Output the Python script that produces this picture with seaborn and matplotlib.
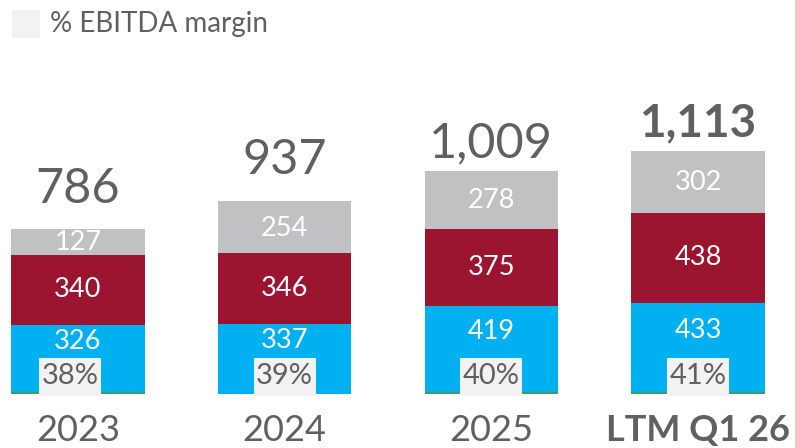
import matplotlib
matplotlib.use("Agg")
import matplotlib.pyplot as plt
import seaborn as sns
import numpy as np
import pandas as pd
from matplotlib.patches import FancyBboxPatch, Rectangle

categories = ["2023", "2024", "2025", "LTM Q1 26"]
green = [9, 0, 9, 9]
blue = [326, 337, 419, 433]
red = [340, 346, 375, 438]
grey = [127, 254, 278, 302]
totals = ["786", "937", "1,009", "1,113"]
margins = ["38%", "39%", "40%", "41%"]
legend_label = "% EBITDA margin"

sns.set_theme(style="white")
plt.rcParams['font.family'] = ['Lato', 'DejaVu Sans']

TXT = "#606060"
C_GREEN = "#3A9E68"
C_BLUE = "#00B0F0"
C_RED = "#9B1530"
C_GREY = "#C0C1C3"
C_BOX = "#F2F2F2"

fig = plt.figure(figsize=(7.95, 4.48), dpi=100)
ax = fig.add_axes([0, 0, 1, 1])

g = np.array(green)
b = np.array(blue)
r = np.array(red)
gr = np.array(grey)
layers = [
    (g + b + r + gr, C_GREY),
    (g + b + r, C_RED),
    (g + b, C_BLUE),
    (g, C_GREEN),
]
for vals, col in layers:
    df = pd.DataFrame({"cat": categories, "val": vals})
    sns.barplot(data=df, x="cat", y="val", color=col, width=0.645,
                saturation=1, ax=ax, linewidth=0)

ax.set_xlim(-0.377, 3.469)
ax.set_ylim(-265, 1915)
ax.axis("off")

upp = (1915 + 265) / 448.0  # data units per pixel
xpp = 1 / 206.7               # category units per pixel
box_top = 36 * upp
box_bot = -2 * upp
box_w = 62 * xpp
box_shift_px = [-8, 0, 0, 0]
label_gap_pt = [18.5, 19.5, 10, 10]

for i in range(len(categories)):
    bold = (i == len(categories) - 1)
    y0 = g[i]
    y1 = y0 + b[i]
    y2 = y1 + r[i]
    top = y2 + gr[i]
    ax.text(i, (y1 + box_top) / 2, str(blue[i]), ha="center", va="center",
            color="white", fontsize=19.5)
    ax.text(i, y1 + r[i] / 2, str(red[i]), ha="center", va="center",
            color="white", fontsize=19.5)
    ax.text(i, y2 + gr[i] / 2 - 1 * upp, str(grey[i]), ha="center", va="center",
            color="white", fontsize=19.5)
    ax.annotate(totals[i], xy=(i, top), xytext=(0, label_gap_pt[i]),
                textcoords="offset points", ha="center", va="baseline",
                color=TXT, fontsize=33 if bold else 35,
                fontweight="bold" if bold else "normal")
    # margin box
    cx = i + box_shift_px[i] * xpp
    ax.add_patch(Rectangle((cx - box_w / 2, box_bot), box_w, box_top - box_bot,
                           facecolor=C_BOX, edgecolor="none", zorder=3))
    ax.text(cx, (box_top + box_bot) / 2 + 1 * upp, margins[i], ha="center",
            va="center", color=TXT, fontsize=21, zorder=4)
    ax.text(i, -37 * upp, categories[i], ha="center", va="center", color=TXT,
            fontsize=26, fontweight="bold" if bold else "normal")

# legend
fig.patches.append(FancyBboxPatch((12 / 795, 1 - 38 / 448), 28 / 795, 28 / 448,
                                  boxstyle="round,pad=0,rounding_size=0.004",
                                  transform=fig.transFigure, facecolor=C_BOX,
                                  edgecolor="none"))
fig.text(50 / 795, 1 - 24 / 448, legend_label, ha="left", va="center",
         color=TXT, fontsize=20)

fig.savefig("out.png", dpi=100)
